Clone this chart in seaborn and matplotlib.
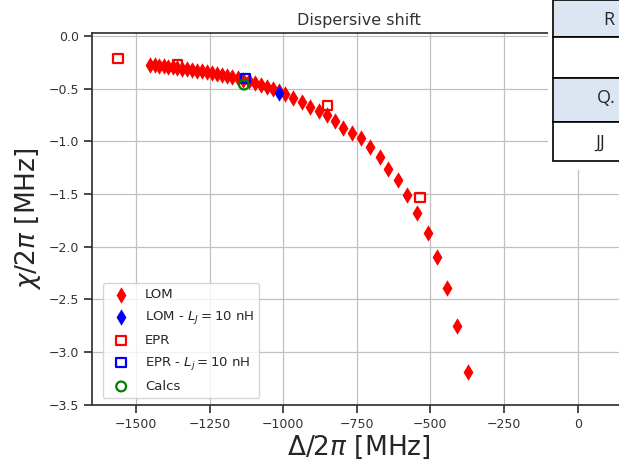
import numpy as np
import pandas as pd
import seaborn as sns
import matplotlib.pyplot as plt
from matplotlib.patches import Rectangle

# LOM sweep
lom_delta = [-1452, -1436, -1421, -1406, -1391, -1375, -1360, -1343, -1326, -1309,
             -1292, -1275, -1258, -1241, -1224, -1207, -1190, -1173, -1155, -1136,
             -1116, -1095, -1075, -1055, -1034, -1014, -994, -966, -937, -909,
             -880, -852, -824, -796, -767, -737, -705, -671, -643, -609,
             -578, -544, -509, -476, -443, -409, -371]
lom_chi = [-0.27, -0.275, -0.28, -0.285, -0.29, -0.295, -0.30, -0.31, -0.315, -0.32,
           -0.33, -0.335, -0.345, -0.35, -0.36, -0.37, -0.38, -0.39, -0.40, -0.415,
           -0.43, -0.445, -0.46, -0.48, -0.50, -0.52, -0.55, -0.59, -0.63, -0.67,
           -0.71, -0.75, -0.81, -0.87, -0.92, -0.97, -1.05, -1.15, -1.26, -1.37,
           -1.51, -1.68, -1.87, -2.10, -2.39, -2.75, -3.19]

lom10_delta = [-1015]
lom10_chi = [-0.54]

epr_delta = [-1561, -1358, -850, -535]
epr_chi = [-0.21, -0.27, -0.66, -1.53]

epr10_delta = [-1127]
epr10_chi = [-0.40]

calc_delta = [-1133]
calc_chi = [-0.46]

sns.set_theme(style="ticks", rc={"axes.grid": True, "grid.color": "#c0c0c0",
                                 "grid.linewidth": 0.9, "axes.edgecolor": "#333333"})
plt.rcParams['font.family'] = ['DejaVu Sans']

W, H = 619, 461
fig = plt.figure(figsize=(W / 100, H / 100), dpi=100)
ax = fig.add_axes([92 / W, 1 - 404.5 / H, (626 - 92) / W, (404.5 - 33) / H])

lom = pd.DataFrame({"delta": lom_delta, "chi": lom_chi})
sns.scatterplot(data=lom, x="delta", y="chi", marker="d", color="red", s=70,
                linewidth=0, label="LOM", ax=ax, zorder=3)
sns.scatterplot(x=lom10_delta, y=lom10_chi, marker="d", color="blue", s=70,
                linewidth=0, label="LOM - $L_J = 10$ nH", ax=ax, zorder=4)
sns.scatterplot(x=epr_delta, y=epr_chi, marker="s", color="none", edgecolor="red",
                s=45, linewidth=1.6, label="EPR", ax=ax, zorder=4)
sns.scatterplot(x=epr10_delta, y=epr10_chi, marker="s", color="none", edgecolor="blue",
                s=45, linewidth=1.6, label="EPR - $L_j = 10$ nH", ax=ax, zorder=5)
sns.scatterplot(x=calc_delta, y=calc_chi, marker="o", color="none", edgecolor="green",
                s=50, linewidth=1.6, label="Calcs", ax=ax, zorder=5)

ax.set_xlim(-1649, 164)
ax.set_ylim(-3.5, 0.03)
ax.set_xticks([-1500, -1250, -1000, -750, -500, -250, 0])
ax.set_yticks(np.arange(-3.5, 0.01, 0.5))
ax.tick_params(labelsize=9, colors="#333333")
ax.set_title("Dispersive shift", fontsize=11.5, color="#333333")
ax.set_xlabel(r"$\Delta/2\pi$ [MHz]", fontsize=19, labelpad=2)
ax.set_ylabel(r"$\chi/2\pi$ [MHz]", fontsize=19, labelpad=4)
ax.legend(loc="lower left", bbox_to_anchor=(0.02, 0.017), borderaxespad=0,
          fontsize=9.5, labelspacing=0.6, handletextpad=0.8, framealpha=0.8)


# piece of a table lying over the screenshot, top right
def fig_rect(x0, y0, x1, y1, **kw):
    fig.add_artist(Rectangle((x0 / W, 1 - y1 / H), (x1 - x0) / W, (y1 - y0) / H,
                             transform=fig.transFigure, **kw))


fig_rect(548, 0, 625, 170, facecolor="white", edgecolor="none", zorder=10)
rows = [(0, 37, "#dce6f2"), (37, 78, "white"), (78, 122, "#dce6f2"), (122, 161, "white")]
for y0, y1, c in rows:
    fig_rect(553, y0, 625, y1, facecolor=c, edgecolor="black", linewidth=1.2, zorder=11)
for tx, ty, s in [(603, 20, "R"), (597, 98, "Q."), (595, 143, "JJ")]:
    fig.text(tx / W, 1 - ty / H, s, fontsize=13, ha="left", va="center",
             family=["Open Sans", "DejaVu Sans"], zorder=12)

fig.savefig("out.png", dpi=100)
